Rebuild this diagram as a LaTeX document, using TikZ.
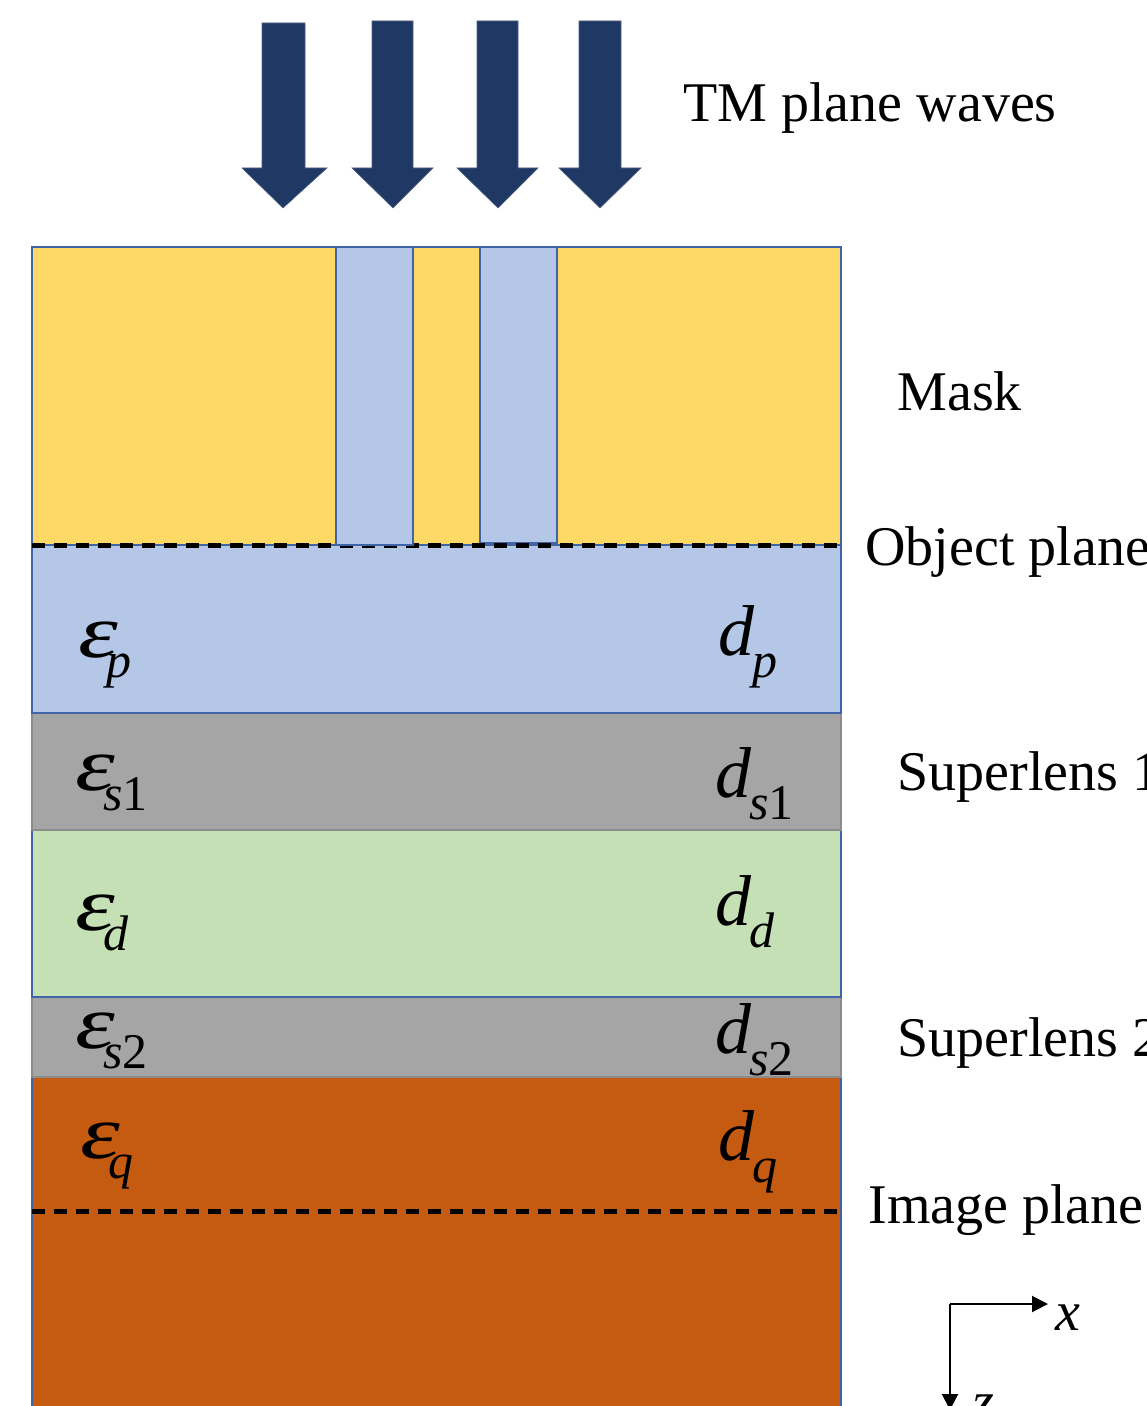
\documentclass[tikz,border=0pt]{standalone}
\usepackage{fontspec}
\setmainfont{Liberation Serif}
\usetikzlibrary{arrows.meta}
\definecolor{mkyellow}{HTML}{FFD966}
\definecolor{mkblue}{HTML}{B4C7E7}
\definecolor{mkgray}{HTML}{A5A5A5}
\definecolor{mkgreen}{HTML}{C5E0B4}
\definecolor{mkorange}{HTML}{C55A11}
\definecolor{mknavy}{HTML}{203864}
\definecolor{mkedge}{HTML}{3F65A8}
\definecolor{mkgedge}{HTML}{8C8C8C}
\newcommand\epslab[1]{\scalebox{1.4}[1.05]{\fontsize{36}{36}\selectfont\itshape ε}\kern-6pt\raisebox{-10pt}{\fontsize{25}{25}\selectfont #1}}
\newcommand\dlab[1]{{\fontsize{36}{36}\selectfont\itshape d}\kern-1pt\raisebox{-11pt}{\fontsize{25}{25}\selectfont #1}}
\tikzset{
  layer/.style={draw=mkedge, line width=0.8pt},
  glayer/.style={draw=mkgedge, line width=0.8pt, fill=mkgray},
  plane/.style={draw=black, line width=2.5pt, dash pattern=on 6.5pt off 4.5pt},
  wave/.style={fill=mknavy, draw=mknavy!80!white, line width=0.3pt},
  txt/.style={inner sep=0pt, anchor=base west, font=\fontsize{28}{28}\selectfont},
  sym/.style={inner sep=0pt, anchor=base west},
  axis/.style={draw=black, line width=1pt, -{Triangle[length=8pt,width=8pt]}}
}
\begin{document}
\begin{tikzpicture}[x=0.5pt,y=-0.5pt]
\useasboundingbox (0,0) rectangle (1146,1406);
\clip (0,0) rectangle (1146,1406);
% incident arrows
\foreach \l/\r/\hl/\hr/\t/\top in {262/305/242/327/283/23, 372/413/352/433/393/21, 477/518/457/538/498/21, 579/621/559/641/600/21}{
  \path[wave] (\l,\top) -- (\r,\top) -- (\r,168) -- (\hr,168) -- (\t,208) -- (\hl,168) -- (\l,168) -- cycle;
}
% layers
\path[layer, fill=mkorange] (32,1077) rectangle (841,1430);
\path[glayer] (32,997) rectangle (841,1077);
\path[layer, fill=mkgreen] (32,830) rectangle (841,997);
\path[glayer] (32,713) rectangle (841,830);
\path[layer, fill=mkblue] (32,545) rectangle (841,713);
% mask
\path[layer, fill=mkyellow] (32,247) rectangle (841,545);
\path[layer, fill=mkblue] (480,247) rectangle (557,543);
% planes
\coordinate (objL) at (32,545);
\coordinate (objR) at (841,545);
\coordinate (imgL) at (32,1211);
\coordinate (imgR) at (841,1211);
\draw[plane] (objL) -- (objR);
\draw[plane] (imgL) -- (imgR);
\path[layer, fill=mkblue] (336,247) rectangle (413,545);
% labels in layers
\node[sym] (ep) at (78,657) {\epslab{\itshape p}};
\node[sym] (es1) at (75,790) {\epslab{\itshape s\upshape 1}};
\node[sym] (ed) at (75,930) {\epslab{\itshape d}};
\node[sym] (es2) at (75,1048) {\epslab{\itshape s\upshape 2}};
\node[sym] (eq) at (80,1158) {\epslab{\itshape q}};
\node[sym] (dp) at (718,655) {\dlab{\itshape p}};
\node[sym] (ds1) at (715,797) {\dlab{\itshape s\upshape 1}};
\node[sym] (dd) at (715,925) {\dlab{\itshape d}};
\node[sym] (ds2) at (715,1053) {\dlab{\itshape s\upshape 2}};
\node[sym] (dq) at (718,1160) {\dlab{\itshape q}};
% side texts
\node[txt] (tm) at (683,122) {TM plane waves};
\node[txt] (mask) at (897,411) {Mask};
\node[txt] (obj) at (865,565) {Object plane};
\node[txt] (sl1) at (897,790) {Superlens 1};
\node[txt] (sl2) at (897,1056) {Superlens 2};
\node[txt] (img) at (868,1223) {Image plane};
% axes
\coordinate (o) at (950,1304);
\coordinate (xe) at (1048,1304);
\coordinate (ze) at (950,1410);
\draw[axis] (o) -- (xe);
\draw[axis] (o) -- (ze);
\node[txt, font=\fontsize{28}{28}\selectfont\itshape] (xl) at (1055,1330) {x};
\node[txt, font=\fontsize{28}{28}\selectfont\itshape] (zl) at (972,1420) {z};
\end{tikzpicture}
\end{document}
